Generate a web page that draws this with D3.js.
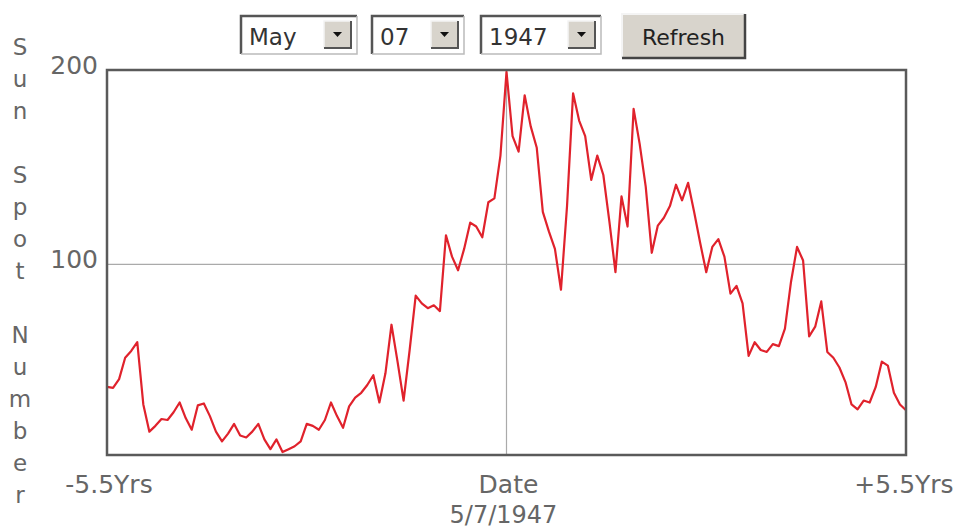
<!DOCTYPE html>
<html>
<head>
<meta charset="utf-8">
<script src="https://cdn.jsdelivr.net/npm/d3@7"></script>
<style>
  html, body { margin: 0; padding: 0; background: #ffffff; }
  svg { display: block; }
</style>
</head>
<body>
<svg id="chart" width="955" height="530"></svg>
<script>
// ---- data ----
const monthOffsets = d3.range(-66, 67); // months relative to 5/7/1947
const sunspots = [
  37, 36.5, 41, 52, 55.5, 60, 28, 14, 17, 20.5,
  20, 24, 29, 21, 15, 27.5, 28.5, 22, 14, 9,
  13, 18, 12, 11, 14, 18, 10, 5, 10, 3.5,
  5, 6.5, 9, 18, 17, 15, 20, 29, 22, 16,
  27, 31.5, 34, 38, 43, 29, 44, 69, 50, 30,
  56, 84, 80, 77.5, 79, 76, 115, 104, 97, 108,
  121.5, 119.5, 114, 132, 134, 156, 199, 166, 158, 187,
  171, 160, 127, 117, 108, 87, 130, 188, 174, 166,
  143.5, 156, 146, 122, 96, 135, 119.5, 180, 162, 140,
  106, 120, 124, 130, 141, 133, 142, 127, 111, 96,
  109, 113, 104, 85, 89, 80, 53, 60, 56, 55,
  59, 58, 67, 91, 109, 102, 63, 68, 81, 55,
  52, 47, 39.5, 28, 25.5, 30, 29, 37, 50, 48,
  34, 28, 25
];
const yTicks = [100, 200];
const xTickLabels = ["-5.5Yrs", "Date", "+5.5Yrs"];
const dateLabel = "5/7/1947";
const yTitle = "Sun Spot Number";
const monthOptions = ["May", "07", "1947"];
const buttonLabel = "Refresh";

// ---- layout ----
const svg = d3.select("#chart");
const L = 107, R = 906, T = 70, B = 455;
const x = d3.scaleLinear().domain([-66, 66]).range([L, R]);
const y = d3.scaleLinear().domain([2, 200]).range([B, T]);
const grey = "#666";
const font = "DejaVu Sans, Verdana, sans-serif";

// gridlines
svg.append("g").selectAll("line.h").data([100]).join("line")
  .attr("x1", L).attr("x2", R).attr("y1", d => y(d)).attr("y2", d => y(d))
  .attr("stroke", "#aaa").attr("stroke-width", 1.2);
svg.append("line")
  .attr("x1", x(0)).attr("x2", x(0)).attr("y1", T).attr("y2", B)
  .attr("stroke", "#aaa").attr("stroke-width", 1.2);

// line
const line = d3.line().x((d, i) => x(monthOffsets[i])).y(d => y(d));
svg.append("path").datum(sunspots)
  .attr("d", line).attr("fill", "none")
  .attr("stroke", "#e0222c").attr("stroke-width", 2.2).attr("stroke-linejoin", "round");

// frame
svg.append("rect").attr("x", L).attr("y", T).attr("width", R - L).attr("height", B - T)
  .attr("fill", "none").attr("stroke", "#5a5a5a").attr("stroke-width", 2.5);

// y tick labels
svg.append("g").selectAll("text").data(yTicks).join("text")
  .attr("x", 98).attr("y", d => y(d) + 4)
  .attr("text-anchor", "end").attr("font-family", font).attr("font-size", 25)
  .attr("fill", grey).text(d => d);

// x labels
const xPos = [-66, 0, 66];
svg.append("g").selectAll("text").data(xTickLabels).join("text")
  .attr("x", (d, i) => x(xPos[i]) + (i === 2 ? -2 : 2)).attr("y", 493)
  .attr("text-anchor", "middle").attr("font-family", font).attr("font-size", 25)
  .attr("fill", grey).text(d => d);
svg.append("text").attr("x", x(0) - 3).attr("y", 523)
  .attr("text-anchor", "middle").attr("font-family", font).attr("font-size", 24)
  .attr("fill", grey).text(dateLabel);

// vertical y title (stacked letters, one per line, spaces kept as empty lines)
const letters = yTitle.split("").map((c, i) => ({c, i}));
svg.append("g").selectAll("text").data(letters.filter(d => d.c !== " ")).join("text")
  .attr("x", 20).attr("y", d => 55 + d.i * 32)
  .attr("text-anchor", "middle").attr("font-family", font).attr("font-size", 23)
  .attr("fill", grey).text(d => d.c);

// top controls
const boxes = [{x: 241, w: 116}, {x: 372, w: 92}, {x: 481, w: 120}];
const ctl = svg.append("g");
boxes.forEach((b, i) => {
  const g = ctl.append("g");
  g.append("rect").attr("x", b.x).attr("y", 16).attr("width", b.w).attr("height", 38).attr("fill", "#fff");
  g.append("path").attr("d", `M${b.x},${54}V16H${b.x + b.w}`).attr("fill", "none").attr("stroke", "#555").attr("stroke-width", 2.5);
  g.append("path").attr("d", `M${b.x + b.w},16V54H${b.x}`).attr("fill", "none").attr("stroke", "#bbb").attr("stroke-width", 1.5);
  g.append("text").attr("x", b.x + 8).attr("y", 45).attr("font-family", font).attr("font-size", 23)
    .attr("fill", "#333").text(monthOptions[i]);
  const ax = b.x + b.w - 33;
  g.append("rect").attr("x", ax).attr("y", 21).attr("width", 27).attr("height", 27).attr("fill", "#d8d4cc");
  g.append("path").attr("d", `M${ax},48V21H${ax + 27}`).attr("fill", "none").attr("stroke", "#f4f4f4").attr("stroke-width", 1.5);
  g.append("path").attr("d", `M${ax + 27},21V48H${ax}`).attr("fill", "none").attr("stroke", "#555").attr("stroke-width", 2);
  g.append("path").attr("d", `M${ax + 9},32h9l-4.5,5z`).attr("fill", "#111");
});
const bt = ctl.append("g");
bt.append("rect").attr("x", 622).attr("y", 14).attr("width", 123).attr("height", 44).attr("fill", "#d8d4cc");
bt.append("path").attr("d", "M622,58V14H745").attr("fill", "none").attr("stroke", "#f4f4f4").attr("stroke-width", 2);
bt.append("path").attr("d", "M745,14V58H622").attr("fill", "none").attr("stroke", "#444").attr("stroke-width", 2.5);
bt.append("text").attr("x", 683.5).attr("y", 45).attr("text-anchor", "middle")
  .attr("font-family", font).attr("font-size", 22).attr("fill", "#222").text(buttonLabel);
</script>
</body>
</html>
